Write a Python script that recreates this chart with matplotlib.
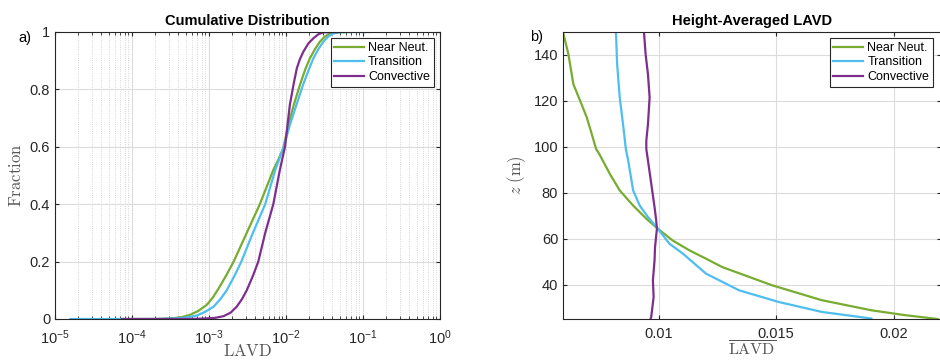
import numpy as np
import matplotlib
matplotlib.use('Agg')
import matplotlib.pyplot as plt
from matplotlib.ticker import LogLocator, NullFormatter

plt.rcParams['font.family'] = ['Liberation Sans', 'DejaVu Sans']
plt.rcParams['mathtext.fontset'] = 'cm'

labels = ['Near Neut.', 'Transition', 'Convective']
colors = ['#77AC30', '#4DBEEE', '#7E2F8E']

# a) cumulative distribution, log10(LAVD) vs fraction
nn_log = [-4.0, -3.72, -3.6, -3.46, -3.35, -3.25, -3.14, -3.03, -2.95, -2.86, -2.77,
          -2.68, -2.51, -2.34, -2.165, -2.1, -2.035, -1.97, -1.9, -1.82, -1.75, -1.69,
          -1.62, -1.56, -1.5, -1.43, -1.35, -1.17]
nn_frac = [0.0, 0.0, 0.0008, 0.003, 0.007, 0.014, 0.028, 0.049, 0.075, 0.113, 0.155,
           0.20, 0.30, 0.40, 0.519, 0.555, 0.595, 0.676, 0.745, 0.815, 0.87, 0.908,
           0.942, 0.966, 0.983, 0.995, 0.999, 1.0]
tr_log = [-4.8, -3.9, -3.6, -3.46, -3.3, -3.16, -3.05, -2.94, -2.85, -2.77, -2.67,
          -2.58, -2.43, -2.27, -2.14, -2.035, -1.95, -1.86, -1.78, -1.71, -1.645,
          -1.58, -1.515, -1.45, -1.385, -1.3, -1.2, -0.91]
tr_frac = [0.0, 0.0, 0.0005, 0.002, 0.005, 0.012, 0.025, 0.043, 0.07, 0.10, 0.15,
           0.20, 0.30, 0.40, 0.519, 0.595, 0.676, 0.75, 0.815, 0.865, 0.908,
           0.94, 0.966, 0.985, 0.995, 0.999, 1.0, 1.0]
cv_log = [-4.13, -3.46, -3.2, -3.03, -2.92, -2.81, -2.72, -2.64, -2.57, -2.51, -2.43,
          -2.36, -2.27, -2.165, -2.08, -2.013, -1.95, -1.9, -1.86, -1.82, -1.775,
          -1.71, -1.645, -1.58, -1.515, -1.3]
cv_frac = [0.0, 0.0, 0.0003, 0.002, 0.004, 0.01, 0.022, 0.043, 0.07, 0.10, 0.15,
           0.20, 0.30, 0.40, 0.519, 0.6, 0.746, 0.82, 0.873, 0.905, 0.931,
           0.96, 0.978, 0.992, 0.999, 1.0]

# b) height-averaged LAVD profiles
nn_z = [150, 140.3, 127.3, 120, 112.8, 105.6, 99, 96.9, 88.2, 81, 74.4, 68.7, 64.3,
        59.2, 54.9, 51.3, 47.6, 39.7, 33.2, 28.8, 26.7, 25]
nn_lavd = [0.00594, 0.00617, 0.00638, 0.00667, 0.00695, 0.00716, 0.00735, 0.00748,
           0.00793, 0.00835, 0.00892, 0.00948, 0.00997, 0.0106, 0.01131, 0.01201,
           0.01271, 0.01482, 0.01693, 0.01904, 0.02045, 0.02186]
tr_z = [150, 136, 121.5, 109.9, 102.7, 99, 94, 81, 74.4, 69.4, 64.3, 57.8, 53.5,
        44.8, 37.5, 32.4, 28.1, 25.2]
tr_lavd = [0.00819, 0.00824, 0.00835, 0.00849, 0.00857, 0.00861, 0.00871, 0.00892,
           0.0092, 0.00955, 0.00997, 0.01046, 0.01103, 0.01201, 0.01342, 0.01511,
           0.01693, 0.01904]
cv_z = [150, 140.3, 131.6, 121.5, 109.9, 102.7, 99, 94, 83.9, 73.7, 67.9, 64.3,
        56.3, 50.6, 41.9, 34.6, 26, 25]
cv_lavd = [0.00938, 0.00945, 0.00955, 0.00962, 0.00955, 0.00948, 0.00948, 0.00955,
           0.00969, 0.00983, 0.0099, 0.00993, 0.00985, 0.00983, 0.00976, 0.00979,
           0.00969, 0.00966]

fig = plt.figure(figsize=(9.4, 3.6), dpi=100)
ax1 = fig.add_axes([55 / 940, 41 / 360, 385 / 940, 287 / 360])
ax2 = fig.add_axes([563 / 940, 41 / 360, 378 / 940, 287 / 360])

axc = '#262626'
for ax in (ax1, ax2):
    ax.tick_params(direction='in', top=True, right=True, labelsize=10.5, colors=axc,
                   length=3)
    for s in ax.spines.values():
        s.set_color(axc)
        s.set_linewidth(0.8)
ax1.tick_params(axis='x', pad=7)
ax2.tick_params(axis='x', pad=6)

cdf = [(nn_log, nn_frac), (tr_log, tr_frac), (cv_log, cv_frac)]
for (lg, fr), c, lab in zip(cdf, colors, labels):
    ax1.plot(10 ** np.array(lg), fr, color=c, lw=1.6, label=lab)
ax1.set_xscale('log')
ax1.set_xlim(1e-5, 1)
ax1.set_ylim(0, 1)
ax1.set_xticks([1e-5, 1e-4, 1e-3, 1e-2, 1e-1, 1])
ax1.set_yticks([0, 0.2, 0.4, 0.6, 0.8, 1])
ax1.set_yticklabels(['0', '0.2', '0.4', '0.6', '0.8', '1'])
ax1.xaxis.set_minor_locator(LogLocator(base=10, subs=np.arange(2, 10), numticks=20))
ax1.xaxis.set_minor_formatter(NullFormatter())
ax1.tick_params(which='minor', direction='in', top=True, length=2, colors=axc)
ax1.grid(True, which='major', color='#dcdcdc', lw=0.8)
ax1.grid(True, which='minor', color='#c8c8c8', lw=0.6, ls=':')
ax1.set_axisbelow(True)
ax1.set_title('Cumulative Distribution', fontsize=10.5, fontweight='bold', pad=5)
ax1.set_xlabel(r'$\mathrm{LAVD}$', fontsize=12, color='#555555', labelpad=-3)
ax1.set_ylabel(r'$\mathrm{Fraction}$', fontsize=12, color='#555555', labelpad=4)
leg1 = ax1.legend(loc='upper right', fontsize=9, fancybox=False, framealpha=1,
                  edgecolor='#262626', borderpad=0.3, handlelength=2.4,
                  labelspacing=0.2, borderaxespad=0.5, handletextpad=0.3)
leg1.get_frame().set_linewidth(0.8)
fig.text(25 / 940, 1 - 38 / 360, 'a)', fontsize=10.5, ha='center', va='center')

prof = [(nn_lavd, nn_z), (tr_lavd, tr_z), (cv_lavd, cv_z)]
for (lv, z), c, lab in zip(prof, colors, labels):
    ax2.plot(lv, z, color=c, lw=1.6, label=lab)
ax2.set_xlim(0.00594, 0.0220)
ax2.set_ylim(25, 150)
ax2.set_xticks([0.01, 0.015, 0.02])
ax2.set_xticklabels(['0.01', '0.015', '0.02'])
ax2.set_yticks([40, 60, 80, 100, 120, 140])
ax2.grid(True, color='#dcdcdc', lw=0.8)
ax2.set_axisbelow(True)
ax2.set_title('Height-Averaged LAVD', fontsize=10.5, fontweight='bold', pad=5)
ax2.set_xlabel(r'$\overline{\mathrm{LAVD}}$', fontsize=11.5, color='#555555', labelpad=-1)
ax2.set_ylabel(r'$z\ (\mathrm{m})$', fontsize=12, color='#555555', labelpad=4)
leg2 = ax2.legend(loc='upper right', fontsize=9, fancybox=False, framealpha=1,
                  edgecolor='#262626', borderpad=0.3, handlelength=2.4,
                  labelspacing=0.2, borderaxespad=0.5, handletextpad=0.3,
                  bbox_to_anchor=(0.995, 1.0))
leg2.get_frame().set_linewidth(0.8)
fig.text(537 / 940, 1 - 37 / 360, 'b)', fontsize=10.5, ha='center', va='center')

fig.savefig('out.png', dpi=100)
